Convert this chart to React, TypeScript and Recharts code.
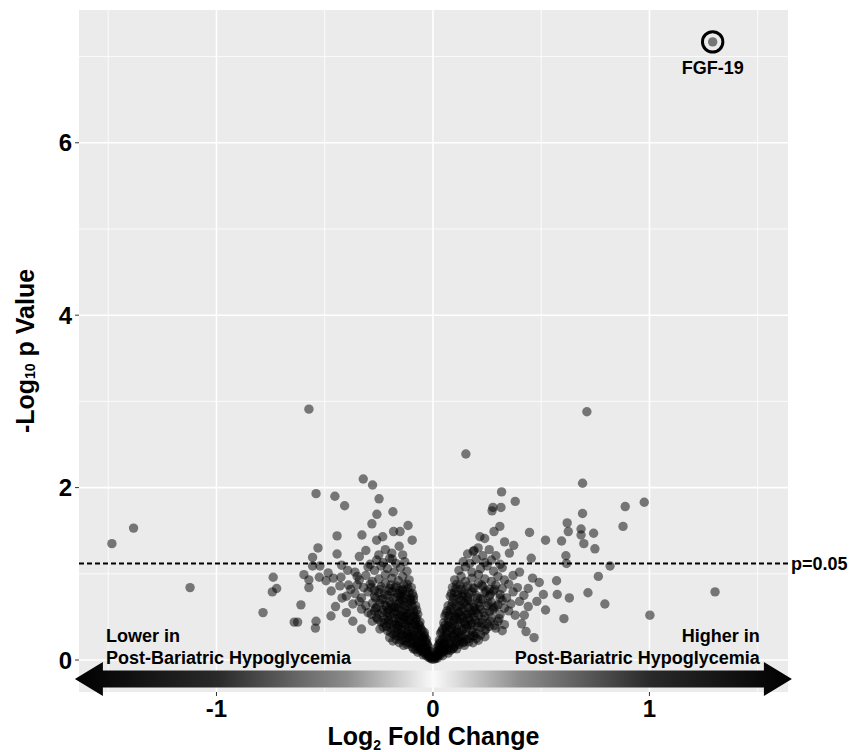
import React from "react";
import {
  ScatterChart,
  Scatter,
  XAxis,
  YAxis,
  CartesianGrid,
  ReferenceLine,
  ReferenceArea,
  ReferenceDot,
  Label,
} from "recharts";

const FONT = '"Liberation Sans", Arial, Helvetica, sans-serif';

// axes
const xTicks = [-1, 0, 1];
const yTicks = [0, 2, 4, 6];
const xMinor = [-1.5, -0.5, 0.5, 1.5];
const yMinor = [1, 3, 5, 7];
const xDomain = [-1.635, 1.64];
const yDomain = [-0.371, 7.54];
const cutoff = 1.12;

// highlighted protein
const fgf19 = [{ x: 1.292, y: 7.17, name: "FGF-19" }];

// [log2 fold change, -log10 p]
const leftOutliers: [number, number][] = [
  [-0.573, 2.91], [-0.322, 2.1], [-0.279, 2.03], [-0.54, 1.93], [-0.453, 1.9],
  [-0.249, 1.87], [-0.408, 1.79], [-0.185, 1.72], [-0.259, 1.69], [-0.282, 1.58],
  [-0.443, 1.44], [-0.531, 1.3], [-0.556, 1.19], [-0.443, 1.23], [-0.328, 1.45],
  [-0.34, 1.2], [-0.26, 1.39], [-0.232, 1.43], [-0.152, 1.49], [-0.182, 1.49],
  [-0.115, 1.56], [-0.096, 1.39], [-0.156, 1.32], [-0.14, 1.22], [-0.188, 1.17],
  [-0.738, 0.96], [-0.742, 0.79], [-0.722, 0.83], [-0.785, 0.55], [-0.61, 0.64],
  [-0.641, 0.44], [-0.625, 0.44], [-0.54, 0.45], [-0.543, 0.37], [-0.471, 0.51],
  [-0.573, 0.84], [-0.596, 0.99], [-0.573, 0.93], [-0.525, 0.96], [-0.494, 0.92],
  [-0.484, 1.01], [-0.522, 1.09], [-0.556, 1.09], [-0.422, 1.1], [-0.394, 1.04],
  [-0.425, 0.96], [-0.35, 0.97], [-1.483, 1.35], [-1.383, 1.53], [-1.122, 0.84],
  [-0.4, 0.55], [-0.37, 0.45], [-0.45, 0.62], [-0.42, 0.72], [-0.33, 0.36],
  [-0.47, 0.8], [-0.39, 0.87],
];

const rightOutliers: [number, number][] = [
  [0.711, 2.88], [0.152, 2.39], [0.691, 2.05], [0.317, 1.95], [0.38, 1.84],
  [0.277, 1.77], [0.314, 1.77], [0.273, 1.73], [0.888, 1.78], [0.976, 1.83],
  [0.691, 1.7], [0.62, 1.59], [0.878, 1.55], [0.684, 1.52], [0.625, 1.49],
  [0.684, 1.45], [0.742, 1.47], [0.697, 1.35], [0.748, 1.29], [0.52, 1.39],
  [0.594, 1.38], [0.446, 1.48], [0.309, 1.55], [0.282, 1.49], [0.217, 1.43],
  [0.239, 1.41], [0.209, 1.3], [0.186, 1.26], [0.331, 1.37], [0.373, 1.33],
  [0.353, 1.24], [0.291, 1.21], [0.454, 1.18], [0.614, 1.21], [0.617, 1.12],
  [0.818, 1.09], [0.764, 0.97], [0.716, 0.78], [0.794, 0.65], [0.63, 0.72],
  [0.605, 0.48], [0.574, 0.76], [0.571, 0.92], [0.51, 0.76], [0.491, 0.9],
  [0.467, 0.26], [0.422, 0.52], [0.44, 0.62], [1.002, 0.52], [1.303, 0.79],
  [0.48, 0.68], [0.44, 0.83], [0.52, 0.58], [0.46, 0.95], [0.41, 0.42],
  [0.43, 0.33],
];

const leftCore: [number, number][] = [
  [-0.01, 0.02], [-0.02, 0.03], [-0.015, 0.06], [-0.03, 0.05], [-0.025, 0.09],
  [-0.04, 0.08], [-0.05, 0.1], [-0.035, 0.12], [-0.06, 0.11], [-0.005, 0.01],
  [-0.008, 0.04], [-0.02, 0.15], [-0.04, 0.16], [-0.06, 0.14], [-0.08, 0.17],
  [-0.1, 0.19], [-0.05, 0.19], [-0.03, 0.2], [-0.07, 0.2], [-0.12, 0.18],
  [-0.09, 0.13], [-0.03, 0.24], [-0.05, 0.26], [-0.07, 0.23], [-0.09, 0.28],
  [-0.11, 0.25], [-0.13, 0.22], [-0.15, 0.27], [-0.17, 0.24], [-0.06, 0.3],
  [-0.1, 0.3], [-0.14, 0.29], [-0.18, 0.3], [-0.04, 0.29], [-0.05, 0.34],
  [-0.07, 0.37], [-0.09, 0.33], [-0.11, 0.39], [-0.13, 0.35], [-0.15, 0.38],
  [-0.17, 0.32], [-0.19, 0.36], [-0.21, 0.34], [-0.08, 0.4], [-0.12, 0.31],
  [-0.16, 0.4], [-0.23, 0.38], [-0.06, 0.39], [-0.06, 0.44], [-0.08, 0.47],
  [-0.1, 0.42], [-0.12, 0.46], [-0.14, 0.43], [-0.16, 0.48], [-0.18, 0.45],
  [-0.2, 0.42], [-0.22, 0.47], [-0.24, 0.44], [-0.26, 0.49], [-0.09, 0.5],
  [-0.13, 0.5], [-0.17, 0.41], [-0.28, 0.45], [-0.21, 0.5], [-0.07, 0.53],
  [-0.09, 0.57], [-0.11, 0.54], [-0.13, 0.59], [-0.15, 0.52], [-0.17, 0.56],
  [-0.19, 0.6], [-0.21, 0.55], [-0.23, 0.58], [-0.25, 0.53], [-0.27, 0.57],
  [-0.3, 0.55], [-0.33, 0.59], [-0.12, 0.51], [-0.2, 0.52], [-0.16, 0.6],
  [-0.08, 0.63], [-0.1, 0.67], [-0.12, 0.62], [-0.14, 0.69], [-0.16, 0.65],
  [-0.18, 0.62], [-0.2, 0.68], [-0.22, 0.64], [-0.24, 0.7], [-0.26, 0.61],
  [-0.28, 0.66], [-0.31, 0.63], [-0.34, 0.68], [-0.37, 0.65], [-0.15, 0.7],
  [-0.09, 0.7], [-0.09, 0.74], [-0.11, 0.78], [-0.13, 0.72], [-0.15, 0.77],
  [-0.17, 0.73], [-0.19, 0.79], [-0.21, 0.75], [-0.23, 0.71], [-0.25, 0.78],
  [-0.27, 0.74], [-0.3, 0.79], [-0.33, 0.72], [-0.36, 0.77], [-0.4, 0.74],
  [-0.14, 0.8], [-0.1, 0.84], [-0.12, 0.88], [-0.14, 0.82], [-0.17, 0.86],
  [-0.2, 0.83], [-0.22, 0.89], [-0.24, 0.85], [-0.27, 0.81], [-0.29, 0.88],
  [-0.32, 0.84], [-0.35, 0.87], [-0.38, 0.82], [-0.43, 0.86], [-0.11, 0.93],
  [-0.14, 0.97], [-0.16, 0.92], [-0.19, 0.95], [-0.22, 0.99], [-0.25, 0.94],
  [-0.28, 0.91], [-0.31, 0.98], [-0.34, 0.93], [-0.46, 0.95], [-0.12, 1.03],
  [-0.15, 1.07], [-0.18, 1.02], [-0.21, 1.06], [-0.24, 1.09], [-0.27, 1.04],
  [-0.3, 1.08], [-0.36, 1.02], [-0.13, 1.14], [-0.17, 1.12], [-0.2, 1.18],
  [-0.23, 1.13], [-0.26, 1.16], [-0.29, 1.11], [-0.19, 1.24], [-0.22, 1.28],
  [-0.25, 1.22], [-0.31, 1.27],
];

const leftDense: [number, number][] = [
  [-0.012, 0.03], [-0.018, 0.05], [-0.028, 0.07], [-0.022, 0.11], [-0.045, 0.06],
  [-0.038, 0.1], [-0.055, 0.13], [-0.07, 0.09], [-0.065, 0.15], [-0.015, 0.1],
  [-0.03, 0.14], [-0.08, 0.12], [-0.095, 0.15], [-0.045, 0.14], [-0.025, 0.18],
  [-0.035, 0.22], [-0.045, 0.25], [-0.055, 0.21], [-0.065, 0.27], [-0.075, 0.18],
  [-0.085, 0.24], [-0.095, 0.21], [-0.105, 0.27], [-0.115, 0.2], [-0.125, 0.26],
  [-0.135, 0.17], [-0.145, 0.23], [-0.155, 0.2], [-0.165, 0.28], [-0.185, 0.22],
  [-0.2, 0.26], [-0.04, 0.27], [-0.08, 0.29], [-0.12, 0.29], [-0.04, 0.32],
  [-0.055, 0.36], [-0.065, 0.41], [-0.075, 0.34], [-0.085, 0.44], [-0.095, 0.38],
  [-0.105, 0.46], [-0.115, 0.33], [-0.125, 0.41], [-0.135, 0.47], [-0.145, 0.35],
  [-0.155, 0.44], [-0.165, 0.37], [-0.175, 0.49], [-0.185, 0.41], [-0.195, 0.32],
  [-0.205, 0.46], [-0.215, 0.39], [-0.225, 0.43], [-0.245, 0.36], [-0.255, 0.47],
  [-0.075, 0.48], [-0.115, 0.43], [-0.155, 0.31], [-0.075, 0.58], [-0.085, 0.52],
  [-0.095, 0.62], [-0.105, 0.56], [-0.115, 0.66], [-0.125, 0.54], [-0.135, 0.63],
  [-0.145, 0.57], [-0.155, 0.67], [-0.165, 0.53], [-0.175, 0.61], [-0.185, 0.55],
  [-0.195, 0.65], [-0.205, 0.58], [-0.215, 0.62], [-0.235, 0.55], [-0.245, 0.66],
  [-0.265, 0.6], [-0.285, 0.53], [-0.105, 0.69], [-0.14, 0.51], [-0.095, 0.77],
  [-0.105, 0.72], [-0.115, 0.83], [-0.125, 0.76], [-0.135, 0.87], [-0.145, 0.74],
  [-0.155, 0.81], [-0.165, 0.77], [-0.175, 0.84], [-0.185, 0.72], [-0.195, 0.87],
  [-0.205, 0.8], [-0.225, 0.76], [-0.245, 0.82], [-0.265, 0.72], [-0.285, 0.84],
];

const rightCore: [number, number][] = [
  [0.005, 0.01], [0.01, 0.03], [0.02, 0.02], [0.015, 0.06], [0.03, 0.05],
  [0.025, 0.09], [0.04, 0.08], [0.05, 0.1], [0.035, 0.12], [0.06, 0.11],
  [0.008, 0.045], [0.02, 0.14], [0.04, 0.17], [0.06, 0.15], [0.08, 0.19],
  [0.1, 0.16], [0.12, 0.18], [0.05, 0.2], [0.07, 0.12], [0.09, 0.13],
  [0.14, 0.2], [0.03, 0.19], [0.03, 0.23], [0.05, 0.27], [0.07, 0.24],
  [0.09, 0.29], [0.11, 0.22], [0.13, 0.26], [0.15, 0.3], [0.17, 0.25],
  [0.19, 0.28], [0.21, 0.23], [0.06, 0.3], [0.1, 0.3], [0.14, 0.21],
  [0.04, 0.33], [0.06, 0.37], [0.08, 0.34], [0.1, 0.39], [0.12, 0.32],
  [0.14, 0.36], [0.16, 0.4], [0.18, 0.35], [0.2, 0.31], [0.22, 0.38],
  [0.24, 0.34], [0.26, 0.39], [0.07, 0.4], [0.11, 0.35], [0.29, 0.37],
  [0.05, 0.43], [0.07, 0.47], [0.09, 0.42], [0.11, 0.48], [0.13, 0.44],
  [0.15, 0.41], [0.17, 0.46], [0.19, 0.5], [0.21, 0.43], [0.23, 0.47],
  [0.25, 0.42], [0.27, 0.49], [0.3, 0.45], [0.33, 0.41], [0.1, 0.5],
  [0.14, 0.49], [0.18, 0.43], [0.06, 0.54], [0.08, 0.58], [0.1, 0.52],
  [0.12, 0.56], [0.14, 0.6], [0.16, 0.53], [0.18, 0.57], [0.2, 0.55],
  [0.22, 0.59], [0.24, 0.51], [0.26, 0.56], [0.28, 0.6], [0.31, 0.53],
  [0.35, 0.57], [0.38, 0.52], [0.13, 0.51], [0.21, 0.52], [0.07, 0.63],
  [0.09, 0.67], [0.11, 0.62], [0.13, 0.69], [0.15, 0.64], [0.17, 0.68],
  [0.19, 0.61], [0.21, 0.66], [0.23, 0.7], [0.25, 0.63], [0.27, 0.67],
  [0.29, 0.62], [0.32, 0.69], [0.36, 0.65], [0.4, 0.68], [0.16, 0.7],
  [0.08, 0.74], [0.1, 0.78], [0.12, 0.72], [0.14, 0.77], [0.16, 0.73],
  [0.18, 0.79], [0.2, 0.75], [0.22, 0.71], [0.24, 0.78], [0.26, 0.74],
  [0.28, 0.8], [0.31, 0.76], [0.34, 0.72], [0.37, 0.79], [0.42, 0.75],
  [0.09, 0.84], [0.11, 0.88], [0.13, 0.82], [0.16, 0.86], [0.19, 0.83],
  [0.21, 0.89], [0.23, 0.85], [0.26, 0.82], [0.29, 0.87], [0.32, 0.83],
  [0.35, 0.88], [0.39, 0.84], [0.1, 0.93], [0.13, 0.97], [0.15, 0.91],
  [0.18, 0.95], [0.21, 0.99], [0.24, 0.94], [0.27, 0.91], [0.3, 0.97],
  [0.33, 0.93], [0.37, 0.98], [0.12, 1.04], [0.15, 1.08], [0.18, 1.02],
  [0.22, 1.06], [0.25, 1.09], [0.28, 1.03], [0.32, 1.07], [0.4, 1.02],
  [0.14, 1.14], [0.17, 1.12], [0.2, 1.17], [0.24, 1.13], [0.27, 1.16],
  [0.31, 1.11], [0.16, 1.23], [0.19, 1.27], [0.23, 1.21], [0.26, 1.28],
];

const rightDense: [number, number][] = [
  [0.012, 0.02], [0.018, 0.05], [0.028, 0.07], [0.022, 0.11], [0.045, 0.05],
  [0.038, 0.1], [0.055, 0.13], [0.07, 0.08], [0.065, 0.14], [0.015, 0.09],
  [0.08, 0.11], [0.095, 0.14], [0.03, 0.13], [0.11, 0.13], [0.025, 0.17],
  [0.035, 0.21], [0.045, 0.24], [0.055, 0.18], [0.065, 0.26], [0.075, 0.2],
  [0.085, 0.23], [0.095, 0.27], [0.105, 0.19], [0.115, 0.25], [0.125, 0.22],
  [0.135, 0.28], [0.145, 0.17], [0.155, 0.24], [0.165, 0.21], [0.175, 0.28],
  [0.185, 0.2], [0.2, 0.25], [0.22, 0.29], [0.24, 0.27], [0.035, 0.31],
  [0.045, 0.36], [0.055, 0.4], [0.065, 0.33], [0.075, 0.44], [0.085, 0.37],
  [0.095, 0.46], [0.105, 0.32], [0.115, 0.41], [0.125, 0.47], [0.135, 0.34],
  [0.145, 0.44], [0.155, 0.37], [0.165, 0.49], [0.175, 0.41], [0.185, 0.32],
  [0.195, 0.46], [0.205, 0.39], [0.225, 0.43], [0.245, 0.36], [0.265, 0.45],
  [0.285, 0.4], [0.305, 0.48], [0.32, 0.34], [0.055, 0.51], [0.065, 0.57],
  [0.075, 0.52], [0.085, 0.62], [0.095, 0.56], [0.105, 0.66], [0.115, 0.54],
  [0.125, 0.63], [0.135, 0.57], [0.145, 0.67], [0.155, 0.53], [0.165, 0.61],
  [0.175, 0.55], [0.185, 0.65], [0.195, 0.58], [0.215, 0.62], [0.235, 0.55],
  [0.255, 0.66], [0.275, 0.58], [0.3, 0.64], [0.33, 0.6], [0.085, 0.77],
  [0.095, 0.72], [0.105, 0.83], [0.115, 0.76], [0.125, 0.87], [0.135, 0.74],
  [0.145, 0.81], [0.165, 0.77], [0.185, 0.84], [0.205, 0.72], [0.225, 0.87],
  [0.245, 0.8], [0.265, 0.76], [0.285, 0.82], [0.31, 0.72],
];

const proteins = [
  ...leftOutliers,
  ...leftCore,
  ...leftDense,
  ...rightCore,
  ...rightDense,
  ...rightOutliers,
].map(([x, y]) => ({ x, y }));

const Dot = (p: any) => (
  <circle cx={p.cx} cy={p.cy} r={4.7} fill="#000" fillOpacity={0.5} />
);

const FgfDot = (p: any) => (
  <g>
    <circle cx={p.cx} cy={p.cy} r={10.2} fill="none" stroke="#000" strokeWidth={3} />
    <circle cx={p.cx} cy={p.cy} r={4.7} fill="#000" fillOpacity={0.5} />
    <text
      x={p.cx}
      y={p.cy + 32}
      textAnchor="middle"
      fontFamily={FONT}
      fontWeight="bold"
      fontSize={18}
      fill="#000"
    >
      {p.payload.name}
    </text>
  </g>
);

// double headed gradient arrow under the panel
const ArrowShape = (p: any) => {
  const { x, y, width, height } = p;
  const head = 28;
  const inset = height * 0.25;
  const pts = [
    [x, y + height / 2],
    [x + head, y],
    [x + head, y + inset],
    [x + width - head, y + inset],
    [x + width - head, y],
    [x + width, y + height / 2],
    [x + width - head, y + height],
    [x + width - head, y + height - inset],
    [x + head, y + height - inset],
    [x + head, y + height],
  ]
    .map((q) => q.join(","))
    .join(" ");
  return (
    <g>
      <defs>
        <linearGradient id="arrowGrad" x1="0" y1="0" x2="1" y2="0">
          <stop offset="0" stopColor="#000" />
          <stop offset="0.2" stopColor="#2a2a2a" />
          <stop offset="0.38" stopColor="#8c8c8c" />
          <stop offset="0.5" stopColor="#fafafa" />
          <stop offset="0.62" stopColor="#8c8c8c" />
          <stop offset="0.8" stopColor="#2a2a2a" />
          <stop offset="1" stopColor="#000" />
        </linearGradient>
      </defs>
      <polygon points={pts} fill="url(#arrowGrad)" />
    </g>
  );
};

const SideNote = (anchor: "start" | "end", first: string) => (p: any) => (
  <text
    x={p.cx}
    y={p.cy}
    textAnchor={anchor}
    fontFamily={FONT}
    fontWeight="bold"
    fontSize={18}
    fill="#000"
  >
    <tspan x={p.cx}>{first}</tspan>
    <tspan x={p.cx} dy={22}>
      Post-Bariatric Hypoglycemia
    </tspan>
  </text>
);

const XTitle = (p: any) => {
  const vb = p.viewBox;
  return (
    <text
      x={vb.x + vb.width / 2}
      y={vb.y + vb.height - 7}
      textAnchor="middle"
      fontFamily={FONT}
      fontWeight="bold"
      fontSize={25}
      fill="#000"
    >
      Log
      <tspan fontSize={14} dy={5}>
        2
      </tspan>
      <tspan dy={-5}> Fold Change</tspan>
    </text>
  );
};

const YTitle = (p: any) => {
  const vb = p.viewBox;
  const cx = 17;
  const cy = vb.y + vb.height / 2;
  return (
    <text
      x={cx}
      y={cy}
      transform={`rotate(-90 ${cx} ${cy})`}
      textAnchor="middle"
      dominantBaseline="central"
      fontFamily={FONT}
      fontWeight="bold"
      fontSize={25}
      fill="#000"
    >
      -Log
      <tspan fontSize={14} dy={5}>
        10
      </tspan>
      <tspan dy={-5}> p Value</tspan>
    </text>
  );
};

const tickStyle = { fill: "#000", fontSize: 24, fontWeight: "bold", fontFamily: FONT };

export default function App() {
  return (
    <ScatterChart
      width={853}
      height={744}
      margin={{ top: 2, right: 73, bottom: 0, left: 0 }}
    >
      <CartesianGrid
        fill="#ebebeb"
        stroke="#fff"
        strokeWidth={0.8}
        horizontalValues={yMinor}
        verticalValues={xMinor}
      />
      <CartesianGrid
        stroke="#fff"
        strokeWidth={1.6}
        horizontalValues={yTicks}
        verticalValues={xTicks}
      />
      <XAxis
        type="number"
        dataKey="x"
        domain={xDomain}
        ticks={xTicks}
        allowDataOverflow
        height={60}
        axisLine={false}
        tickLine={{ stroke: "#333" }}
        tickSize={4}
        tickMargin={4}
        tick={tickStyle}
        label={<Label content={XTitle} />}
      />
      <YAxis
        type="number"
        dataKey="y"
        domain={yDomain}
        ticks={yTicks}
        allowDataOverflow
        width={71}
        axisLine={false}
        tickLine={{ stroke: "#333" }}
        tickSize={4}
        tickMargin={3}
        tick={tickStyle}
        label={<Label content={YTitle} />}
      />
      <Scatter data={proteins} shape={Dot} isAnimationActive={false} />
      <Scatter data={fgf19} shape={FgfDot} isAnimationActive={false} />
      <ReferenceLine
        y={cutoff}
        stroke="#000"
        strokeWidth={2}
        strokeDasharray="5 3"
        label={{
          value: "p=0.05",
          position: "right",
          offset: 3,
          fill: "#000",
          fontSize: 18,
          fontWeight: "bold",
          fontFamily: FONT,
        }}
      />
      <ReferenceArea
        x1={-1.654}
        x2={1.658}
        y1={-0.418}
        y2={-0.023}
        ifOverflow="visible"
        shape={ArrowShape}
      />
      <ReferenceDot x={-1.51} y={0.209} r={0} shape={SideNote("start", "Lower in")} />
      <ReferenceDot x={1.51} y={0.209} r={0} shape={SideNote("end", "Higher in")} />
    </ScatterChart>
  );
}
